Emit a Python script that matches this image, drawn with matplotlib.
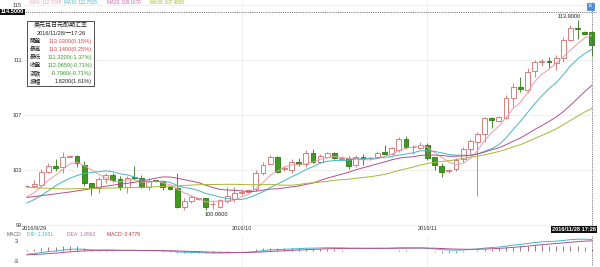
import matplotlib
matplotlib.use('Agg')
import matplotlib.pyplot as plt
import matplotlib.transforms as mtransforms
from matplotlib.patches import Rectangle
import numpy as np

plt.rcParams['font.family'] = ['Liberation Sans', 'Noto Sans CJK SC', 'DejaVu Sans']

# ---------------- data (USD/JPY daily, 2016/8/29 - 2016/11/28) ----------------
opens = [101.82, 101.86, 101.91, 102.88, 103.29, 103.20, 103.97, 104.02, 103.36, 102.03,
         101.67, 102.32, 102.61, 102.32, 101.79, 102.47, 102.40, 101.79, 102.25, 102.22,
         101.79, 101.67, 100.29, 100.77, 100.92, 100.94, 100.52, 100.33, 100.77, 100.91,
         101.32, 101.38, 101.60, 102.76, 103.44, 103.92, 103.05, 103.00, 103.60, 103.44,
         104.21, 103.60, 103.97, 104.26, 103.80, 103.85, 103.36, 103.97, 103.84, 103.92,
         104.33, 104.16, 104.45, 105.23, 104.64, 104.58, 104.82, 103.92, 103.30, 102.90,
         103.05, 103.78, 104.51, 105.06, 105.62, 106.76, 106.59, 106.76, 108.21, 109.01,
         108.82, 110.22, 110.85, 110.95, 110.80, 111.12, 112.45, 113.31, 113.05, 113.03]
highs = [101.90, 102.27, 103.05, 103.53, 103.78, 104.31, 104.09, 104.09, 103.67, 102.06,
         102.47, 102.80, 102.76, 102.56, 102.56, 103.29, 102.64, 102.40, 102.30, 102.28,
         101.86, 102.76, 100.94, 101.16, 101.00, 101.00, 100.82, 100.86, 101.74, 101.79,
         101.55, 101.62, 103.00, 103.60, 104.09, 104.00, 103.30, 103.78, 103.90, 104.45,
         104.55, 104.20, 104.33, 104.33, 104.00, 104.00, 104.09, 104.20, 103.95, 104.40,
         104.82, 104.70, 105.38, 105.49, 104.82, 105.06, 104.98, 103.97, 103.48, 103.10,
         103.85, 104.69, 105.28, 105.79, 106.88, 106.88, 106.92, 108.45, 109.31, 109.79,
         110.40, 111.00, 111.10, 111.24, 111.36, 112.69, 113.55, 113.90, 113.12, 113.14]
lows = [101.76, 101.79, 101.79, 102.80, 102.96, 102.77, 103.94, 103.24, 101.84, 101.16,
        101.31, 102.03, 102.15, 101.55, 101.35, 102.27, 101.67, 101.55, 102.15, 101.55,
        101.55, 100.21, 100.10, 100.62, 100.85, 100.06, 100.14, 100.21, 100.62, 100.69,
        101.20, 101.31, 101.50, 102.64, 103.36, 102.80, 102.95, 102.80, 103.30, 103.24,
        103.50, 103.50, 103.90, 103.80, 103.75, 103.10, 103.20, 103.40, 103.75, 103.85,
        104.09, 104.09, 104.33, 104.51, 104.20, 104.50, 103.70, 103.00, 102.51, 102.80,
        102.90, 103.60, 104.20, 101.10, 105.06, 106.03, 106.50, 106.69, 107.60, 108.69,
        108.58, 109.74, 110.60, 110.40, 110.30, 110.87, 112.40, 112.50, 112.80, 111.32]
closes = [101.84, 101.96, 102.88, 103.29, 103.15, 103.92, 103.99, 103.49, 102.03, 101.69,
          102.32, 102.61, 102.27, 101.79, 102.40, 102.40, 101.74, 102.22, 102.20, 101.79,
          101.64, 100.29, 100.75, 101.06, 100.96, 100.29, 100.54, 100.82, 101.11, 101.31,
          101.42, 101.55, 102.80, 103.36, 103.92, 102.88, 103.12, 103.60, 103.44, 104.21,
          103.60, 104.02, 104.21, 103.85, 103.85, 103.29, 103.92, 103.80, 103.87, 104.26,
          104.16, 104.58, 105.23, 104.69, 104.66, 104.82, 103.85, 103.36, 102.88, 103.00,
          103.73, 104.51, 105.13, 105.62, 106.76, 106.64, 106.83, 108.21, 109.01, 108.87,
          110.15, 110.87, 110.90, 110.82, 111.12, 112.45, 113.31, 113.25, 112.861, 112.065]

ma5_head_idx = [0, 1, 2, 3]
ma5_head_val = [101.05, 101.35, 101.80, 102.25]
ma10_head_idx = [0, 1, 2, 3, 4, 5, 6, 7, 8]
ma10_head_val = [100.60, 100.85, 101.15, 101.50, 101.85, 102.15, 102.40, 102.60, 102.75]
ma20_head_idx = [0, 3, 6, 9, 12, 15, 18]
ma20_head_val = [101.00, 101.20, 101.40, 101.65, 101.90, 102.10, 102.40]
ma30_head_idx = [0, 5, 10, 15, 20, 24, 28]
ma30_head_val = [101.74, 101.62, 101.67, 101.72, 101.82, 101.93, 101.96]

# MACD state just before the first candle (estimated from the chart start)
ema12_start, ema26_start, dea_start = 100.55, 101.35, -0.75

ma_labels = ['MA5', 'MA10', 'MA20', 'MA30']
ma_last = [112.7848, 111.7815, 109.1670, 107.4836]
macd_names = ['DIF', 'DEA', 'MACD']
macd_last = [2.1951, 1.9562, 0.4779]

x_tick_idx = [0, 30, 56]
x_tick_lbl = ['2016/8/29', '2016/10', '2016/11']
y_ticks = [99, 103, 107, 111, 115]

title_cn = '美元兑日元即期汇率'
stamp = '2016/11/28/一17:26'
stamp2 = '2016/11/28 17:26'
row_names = ['開盤', '最高', '最低', '收盤', '漲跌', '振幅']
cross_price = 114.5

# ---------------- derived ----------------
n = len(closes)
x = np.arange(n)
c = np.array(closes)

def rolling(win):
    out = np.full(n, np.nan)
    for i in range(win - 1, n):
        out[i] = c[i - win + 1:i + 1].mean()
    return out

def ma_series(win, hidx, hval):
    r = rolling(win)
    xs = list(hidx) + list(range(win - 1, n))
    ys = list(hval) + list(r[win - 1:])
    return np.array(xs), np.array(ys)

e12, e26, dea = ema12_start, ema26_start, dea_start
dif_l, dea_l = [], []
for v in closes:
    e12 = e12 + (v - e12) * 2 / 13
    e26 = e26 + (v - e26) * 2 / 27
    d = e12 - e26
    dea = dea + (d - dea) * 2 / 10
    dif_l.append(d)
    dea_l.append(dea)
dif_a = np.array(dif_l)
dea_a = np.array(dea_l)
hist = 2 * (dif_a - dea_a)

# ---------------- styling ----------------
UP = '#d36b6b'
DN_F = '#3f9a1e'
DN_E = '#2e7a12'
MA_COL = ['#f09aa8', '#45b5c6', '#b2508e', '#aab53a']
GRID = '#ececec'
FS = 4.1
FS_HDR = 3.3

W, H = 600, 267
fig = plt.figure(figsize=(W / 100, H / 100), dpi=100)

step = 7.15
x0p = 27.0
left_px, right_px = 24, 597
xl = ((left_px - x0p) / step, (right_px - x0p) / step)

top_px, bot_px = 2, 226
scale = 13.75
ylo = 103 + (170 - bot_px) / scale
yhi = 103 + (170 - top_px) / scale

ax = fig.add_axes([left_px / W, 1 - bot_px / H, (right_px - left_px) / W, (bot_px - top_px) / H])
ax.set_xlim(*xl)
ax.set_ylim(ylo, yhi)
for s in ax.spines.values():
    s.set_visible(False)
ax.set_yticks(y_ticks)
ax.set_yticklabels([str(t) for t in y_ticks], fontsize=FS, color='#333333')
ax.tick_params(axis='y', length=0, pad=1.5)
ax.set_xticks([])
for t in y_ticks:
    ax.axhline(t, color=GRID, lw=0.6, zorder=0)
for t in x_tick_idx[1:]:
    ax.axvline(t, color=GRID, lw=0.6, zorder=0)

# candles
o = np.array(opens); h = np.array(highs); l = np.array(lows)
up = c >= o
wick_col = [UP if u else DN_E for u in up]
ax.vlines(x, l, h, colors=wick_col, lw=0.6, zorder=2)
body_lo = np.minimum(o, c)
body_h = np.maximum(np.abs(c - o), 0.02)
ax.bar(x[up], body_h[up], bottom=body_lo[up], width=0.68, facecolor='white',
       edgecolor=UP, lw=0.6, zorder=3)
ax.bar(x[~up], body_h[~up], bottom=body_lo[~up], width=0.68, facecolor=DN_F,
       edgecolor=DN_E, lw=0.6, zorder=3)

# moving averages
for win, hi_, hv, col in [(5, ma5_head_idx, ma5_head_val, MA_COL[0]),
                          (10, ma10_head_idx, ma10_head_val, MA_COL[1]),
                          (20, ma20_head_idx, ma20_head_val, MA_COL[2]),
                          (30, ma30_head_idx, ma30_head_val, MA_COL[3])]:
    xs, ys = ma_series(win, hi_, hv)
    ax.plot(xs, ys, color=col, lw=0.7, zorder=4)

# crosshair
ax.axhline(cross_price, color='#555555', lw=0.6, ls=(0, (1, 1.2)), zorder=5)
ax.axvline(x[-1], color='#555555', lw=0.6, ls=(0, (1, 1.2)), zorder=5)
ax.text(xl[0], cross_price, f'{cross_price:.4f}', ha='right', va='center', fontsize=FS,
        color='white', fontweight='bold',
        bbox=dict(facecolor='#111111', edgecolor='none', pad=0.4), zorder=6, clip_on=False)

# high / low annotations
ihi = int(np.argmax(h)); ilo = int(np.argmin(l))
ax.text(ihi + 0.4, h[ihi] + 0.08, f'{h[ihi]:.4f}', ha='right', va='bottom', fontsize=FS, color='#222222')
ax.text(ilo - 0.2, l[ilo] - 0.12, f'{l[ilo]:.4f}', ha='left', va='top', fontsize=FS, color='#222222')

# x tick labels
trans = mtransforms.blended_transform_factory(ax.transData, ax.transAxes)
for i, (ti, tl) in enumerate(zip(x_tick_idx, x_tick_lbl)):
    if i == 0:
        ax.text(ti - 0.7, -0.013, tl, transform=trans, ha='left', va='center', fontsize=FS, color='#333333')
    else:
        ax.text(ti, -0.013, tl, transform=trans, ha='center', va='center', fontsize=FS, color='#333333')

# ---------------- MACD panel ----------------
m_top, m_bot = 236, 266
ax2 = fig.add_axes([left_px / W, 1 - m_bot / H, (right_px - left_px) / W, (m_bot - m_top) / H])
ax2.set_xlim(*xl)
ax2.set_ylim(-2.9, 2.9)
for s in ax2.spines.values():
    s.set_visible(False)
ax2.set_xticks([]); ax2.set_yticks([])
for t in x_tick_idx[1:]:
    ax2.axvline(t, color=GRID, lw=0.6, zorder=0)
ax2.axvline(x[-1], color='#555555', lw=0.6, ls=(0, (1, 1.2)), zorder=5)
hcol = ['#8a3a3a' if v >= 0 else '#3f7a2a' for v in hist]
ax2.vlines(x, 0, hist, colors=hcol, lw=0.5, zorder=2)
ax2.plot(x, dif_a, color=MA_COL[1], lw=0.7, zorder=3)
ax2.plot(x, dea_a, color=MA_COL[2], lw=0.7, zorder=3)
ax2.text(-0.01, 0.81, '3', transform=ax2.transAxes, ha='right', va='center', fontsize=FS, color='#333333')
ax2.text(-0.01, 0.14, '-3', transform=ax2.transAxes, ha='right', va='center', fontsize=FS, color='#333333')

# ---------------- overlay texts ----------------
ov = fig.add_axes([0, 0, 1, 1], zorder=10)
ov.set_xlim(0, W); ov.set_ylim(H, 0); ov.axis('off'); ov.patch.set_alpha(0)

# MA header
hx = [30, 64, 107, 150]
hcolors = ['#f4a3b3', '#45b5c6', '#c563a3', '#a5b52a']
for px, lab, val, col in zip(hx, ma_labels, ma_last, hcolors):
    ov.text(px, 2.0, f'{lab}: {val:.4f}', fontsize=FS_HDR, color=col, ha='left', va='center')

# MACD header
ov.text(7, 234, 'MACD', fontsize=FS_HDR + 0.3, color='#666666', ha='left', va='center')
mx = [27, 67, 107]
mcol = [MA_COL[1], '#b86aa8', '#a83a3a']
for px, lab, val, col in zip(mx, macd_names, macd_last, mcol):
    ov.text(px, 234, f'{lab}: {val:.4f}', fontsize=FS_HDR + 0.3, color=col, ha='left', va='center')

# time stamp box at bottom right
ov.text(596, 229.5, stamp2, fontsize=FS, color='white', ha='right', va='center', fontweight='bold',
        bbox=dict(facecolor='#111111', edgecolor='none', pad=0.4))

# close button
ov.add_patch(Rectangle((586.5, 2.5), 7.5, 7.5, facecolor='#4f8fd6', edgecolor='#2a6ab8', lw=0.4))
ov.text(590.2, 6.3, '×', fontsize=5.5, color='white', ha='center', va='center')

# tooltip box
ov.add_patch(Rectangle((27, 20.7), 67, 65.3, facecolor='white', edgecolor='#333333', lw=0.6))
ov.text(61, 25.5, title_cn, fontsize=4.3, color='#222222', ha='center', va='center')
ov.text(61, 33.3, stamp, fontsize=FS, color='#222222', ha='center', va='center')
prev = closes[-2]
O, Hh, L, C = opens[-1], highs[-1], lows[-1], closes[-1]
vals = [
    (f'{O:.4f}({(O - prev) / prev * 100:.2f}%)', O - prev),
    (f'{Hh:.4f}({(Hh - prev) / prev * 100:.2f}%)', Hh - prev),
    (f'{L:.4f}({(L - prev) / prev * 100:.2f}%)', L - prev),
    (f'{C:.4f}({(C - prev) / prev * 100:.2f}%)', C - prev),
    (f'{C - prev:.4f}({(C - prev) / prev * 100:.2f}%)', C - prev),
    (f'{Hh - L:.4f}({(Hh - L) / prev * 100:.2f}%)', 0),
]
rows_y = [41.3, 49.5, 57.7, 65.7, 73.7, 81.5]
for ry, name, (txt, sign) in zip(rows_y, row_names, vals):
    col = '#d04a4a' if sign > 0 else ('#3a9a2a' if sign < 0 else '#222222')
    ov.text(30, ry, name, fontsize=FS, color='#222222', ha='left', va='center')
    ov.text(92, ry, txt, fontsize=FS, color=col, ha='right', va='center')

fig.savefig('out.png', dpi=100)
